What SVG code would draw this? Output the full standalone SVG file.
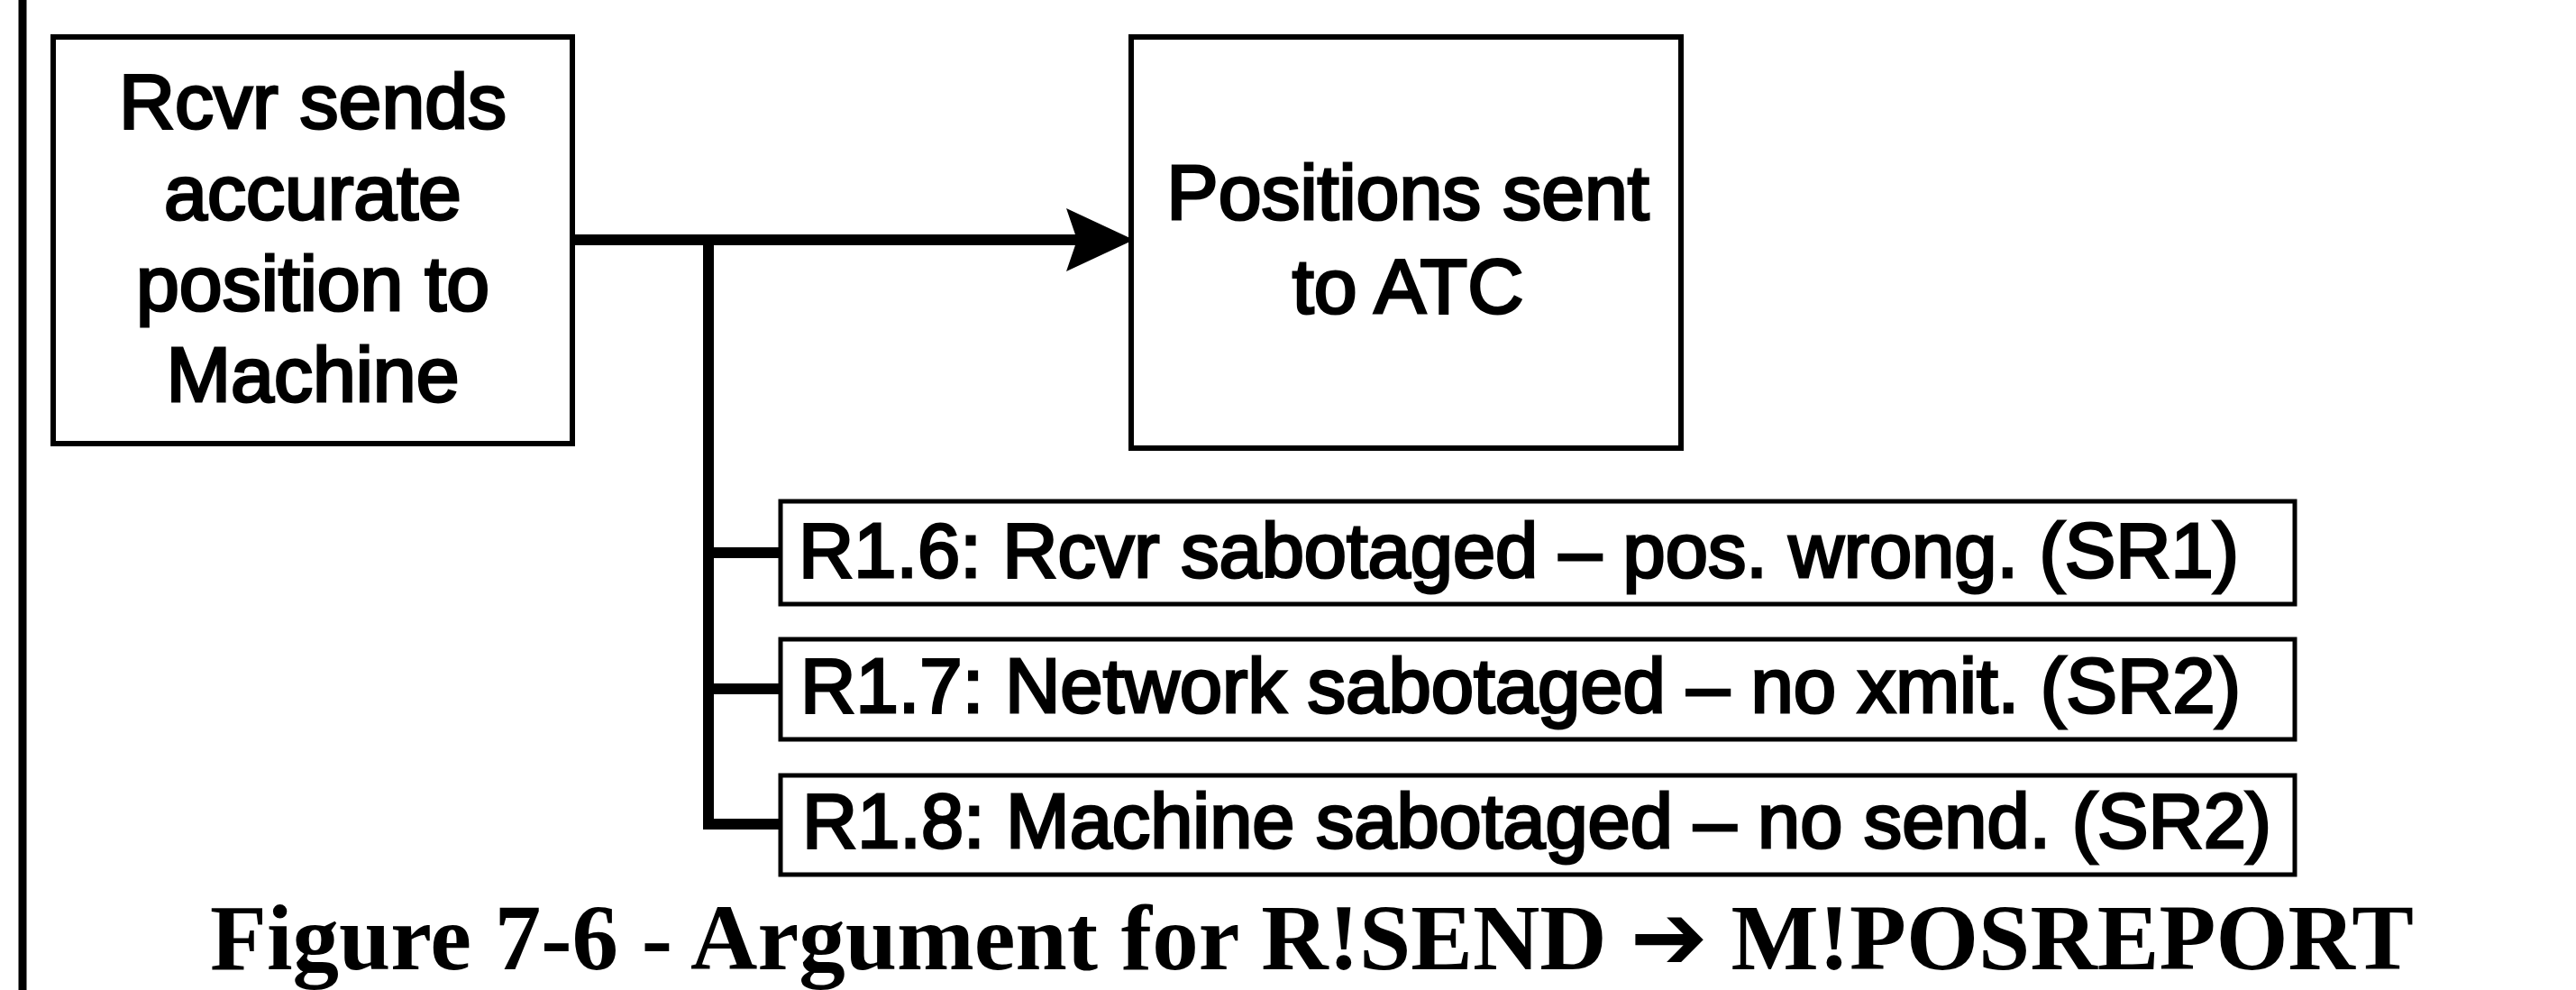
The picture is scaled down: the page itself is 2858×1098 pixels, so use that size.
<svg xmlns="http://www.w3.org/2000/svg" width="2858" height="1098" viewBox="0 0 2858 1098">
  <style>
    .box { fill: #fff; stroke: #000; stroke-width: 6; }
    .sub { fill: #fff; stroke: #000; stroke-width: 5; }
    .lbl { font-family: "Liberation Sans", Arial, sans-serif; font-size: 86px; fill: #000; stroke: #000; stroke-width: 3; }
    .mid { text-anchor: middle; }
    .wire { fill: none; stroke: #000; stroke-width: 12; }
    .cap { font-family: "Liberation Serif", "Times New Roman", "DejaVu Sans", serif; font-weight: bold; font-size: 104px; fill: #000; }
  </style>
  <defs>
    <marker id="arrow" markerUnits="userSpaceOnUse" viewBox="0 0 75 70" refX="12" refY="35" markerWidth="75" markerHeight="70" orient="auto">
      <path d="M0,0 L75,35 L0,70 L12,35 Z" fill="#000"/>
    </marker>
  </defs>
  <rect width="2858" height="1098" fill="#fff"/>
  <line x1="25" y1="0" x2="25" y2="1098" stroke="#000" stroke-width="9"/>

  <g id="connectors">
    <path class="wire" d="M637,266 H1195" marker-end="url(#arrow)"/>
    <path class="wire" d="M786,260 V919" stroke-width="11"/>
    <path class="wire" d="M780,613 H866"/>
    <path class="wire" d="M780,764 H866"/>
    <path class="wire" d="M780,914 H866"/>
  </g>

  <g id="node-rcvr">
    <rect class="box" x="59" y="41" width="576" height="451"/>
    <text class="lbl mid" x="347" y="142">Rcvr sends</text>
    <text class="lbl mid" x="347" y="243">accurate</text>
    <text class="lbl mid" x="347" y="344">position to</text>
    <text class="lbl mid" x="347" y="445">Machine</text>
  </g>

  <g id="node-atc">
    <rect class="box" x="1255" y="41" width="610" height="456"/>
    <text class="lbl mid" x="1562" y="243">Positions sent</text>
    <text class="lbl mid" x="1562" y="347">to ATC</text>
  </g>

  <g id="node-r16">
    <rect class="sub" x="866" y="556" width="1680" height="114"/>
    <text class="lbl" x="886" y="640" textLength="1598" lengthAdjust="spacingAndGlyphs">R1.6: Rcvr sabotaged – pos. wrong. (SR1)</text>
  </g>

  <g id="node-r17">
    <rect class="sub" x="866" y="709" width="1680" height="111"/>
    <text class="lbl" x="888" y="790" textLength="1598" lengthAdjust="spacingAndGlyphs">R1.7: Network sabotaged – no xmit. (SR2)</text>
  </g>

  <g id="node-r18">
    <rect class="sub" x="866" y="860" width="1680" height="110"/>
    <text class="lbl" x="890" y="940" textLength="1630" lengthAdjust="spacingAndGlyphs">R1.8: Machine sabotaged – no send. (SR2)</text>
  </g>

  <text class="cap" x="233" y="1075" textLength="2445" lengthAdjust="spacingAndGlyphs">Figure 7-6 - Argument for R!SEND ➔ M!POSREPORT</text>
</svg>
